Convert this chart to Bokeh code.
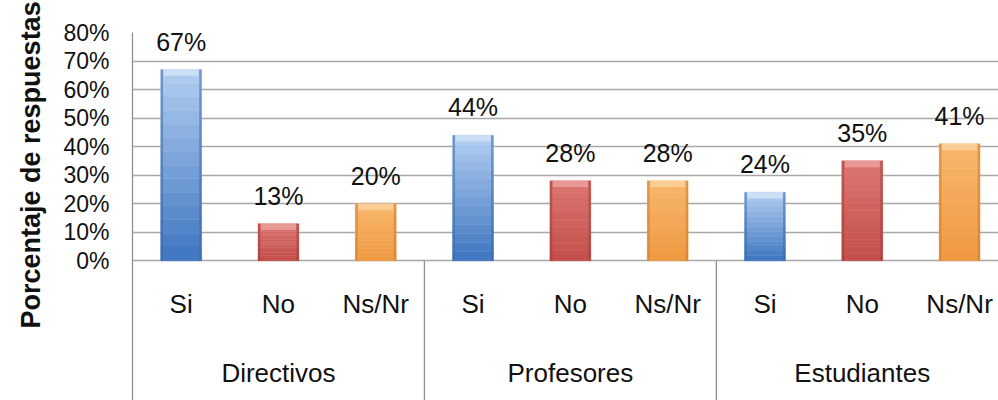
from bokeh.plotting import figure
from bokeh.models import Range1d, FixedTicker, PrintfTickFormatter, Title
from bokeh.core.properties import value
from bokeh.embed import file_html
from bokeh.resources import INLINE

# ---- data ----
groups = ["Directivos", "Profesores", "Estudiantes"]
answers = ["Si", "No", "Ns/Nr"]
directivos = [67, 13, 20]
profesores = [44, 28, 28]
estudiantes = [24, 35, 41]
series = [directivos, profesores, estudiantes]
yticks = [0, 10, 20, 30, 40, 50, 60, 70, 80]

# ---- styles ----
FONT = "Liberation Sans"
bottom_cols = {"Si": "#4378c2", "No": "#c44f4b", "Ns/Nr": "#ef9a42"}
top_cols = {"Si": "#aecbef", "No": "#dc7570", "Ns/Nr": "#f8b66c"}
edge_cols = {"Si": "#3b6aa8", "No": "#9c3c39", "Ns/Nr": "#c97a30"}
cap_cols = {"Si": "#d2e3f7", "No": "#eca29e", "Ns/Nr": "#fcd39f"}
BAR_W = 0.42


def mix(c1, c2, t):
    a = [int(c1[i:i + 2], 16) for i in (1, 3, 5)]
    b = [int(c2[i:i + 2], 16) for i in (1, 3, 5)]
    return "#%02x%02x%02x" % tuple(round(a[j] + (b[j] - a[j]) * t) for j in range(3))


xs, vals, ans_labels, val_labels = [], [], [], []
for gi, g in enumerate(groups):
    for ai, a in enumerate(answers):
        xs.append(gi * len(answers) + ai + 0.5)
        vals.append(series[gi][ai])
        ans_labels.append(a)
        val_labels.append(f"{series[gi][ai]}%")

n_cat = len(xs)
group_x = [gi * len(answers) + len(answers) / 2 for gi in range(len(groups))]
sep_x = [gi * len(answers) for gi in range(1, len(groups))]

YMIN = -49
p = figure(width=998, height=400, x_range=Range1d(0, 8.9), y_range=Range1d(YMIN, 80),
           output_backend="svg", toolbar_location=None, x_axis_location=None,
           min_border_left=132, min_border_top=32, min_border_bottom=0, min_border_right=0)
p.outline_line_color = None
p.background_fill_color = "white"
p.border_fill_color = "white"
p.xgrid.visible = False
p.ygrid.ticker = FixedTicker(ticks=yticks)
p.ygrid.grid_line_color = "#a8a8a8"
p.ygrid.grid_line_width = 1.3

yax = p.yaxis[0]
yax.ticker = FixedTicker(ticks=yticks)
yax.formatter = PrintfTickFormatter(format="%d%%")
yax.major_tick_out = 0
yax.major_tick_in = 0
yax.minor_tick_line_color = None
yax.major_label_standoff = 23
yax.major_label_text_font = FONT
yax.major_label_text_font_size = "23px"
yax.major_label_text_color = "#111111"
yax.axis_line_color = "#8f8f8f"
yax.axis_line_width = 1.3

# gradient bars (vertical bands)
nb = 14
bx, bb, bt, bc = [], [], [], []
for x, v, a in zip(xs, vals, ans_labels):
    for k in range(nb):
        bx.append(x)
        bb.append(v * k / nb)
        bt.append(v * (k + 1) / nb)
        bc.append(mix(bottom_cols[a], top_cols[a], k / (nb - 1)))
p.vbar(x=bx, bottom=bb, top=bt, width=BAR_W, fill_color=bc, line_color=bc, line_width=0.5)

# darker side edges
ex, et, ec = [], [], []
for x, v, a in zip(xs, vals, ans_labels):
    for s in (-1, 1):
        ex.append(x + s * (BAR_W / 2 - 0.012))
        et.append(v)
        ec.append(edge_cols[a])
p.vbar(x=ex, top=et, bottom=0, width=0.024, fill_color=ec, line_color=None, fill_alpha=0.55)

# light top cap
cx, ctop, cbot, cc = [], [], [], []
for x, v, a in zip(xs, vals, ans_labels):
    cx.append(x)
    ctop.append(v)
    cbot.append(v - 2.2)
    cc.append(cap_cols[a])
p.vbar(x=cx, top=ctop, bottom=cbot, width=BAR_W - 0.06, fill_color=cc, line_color=None, fill_alpha=0.8)

# value labels
p.text(x=xs, y=vals, text=val_labels, text_align="center", text_baseline="alphabetic",
       y_offset=-28, text_font=value(FONT), text_font_size="25px", text_color="#111111")

# category axis drawn below the 0 line
p.segment(x0=sep_x, y0=[0] * len(sep_x), x1=sep_x, y1=[YMIN] * len(sep_x),
          line_color="#8f8f8f", line_width=1.3)
p.text(x=xs, y=[0] * n_cat, text=ans_labels, text_align="center", text_baseline="alphabetic",
       y_offset=43, text_font=value(FONT), text_font_size="26px", text_color="#111111")
p.text(x=group_x, y=[0] * len(groups), text=groups, text_align="center", text_baseline="alphabetic",
       y_offset=112, text_font=value(FONT), text_font_size="26px", text_color="#111111")

t = Title(text="Porcentaje de respuestas", text_font=FONT, text_font_size="27px",
          text_font_style="bold", text_color="#111111", align="left", offset=72,
          standoff=26, vertical_align="top")
p.add_layout(t, "left")

open("out.html", "w").write(file_html(p, INLINE))
